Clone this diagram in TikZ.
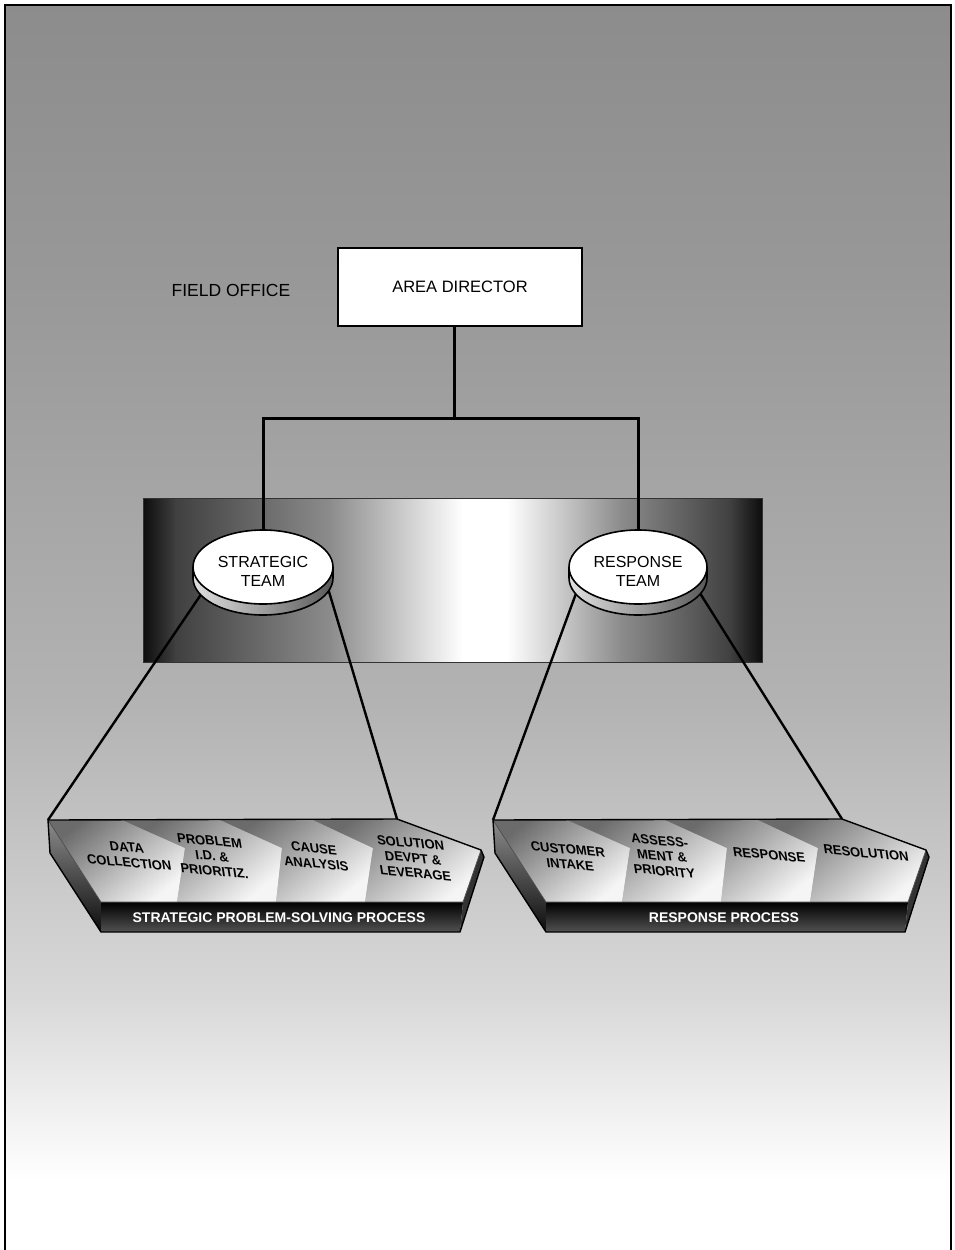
\documentclass[tikz,border=0pt]{standalone}
\usepackage{fontspec}
\setmainfont{Liberation Sans}
\usetikzlibrary{shapes.geometric}

% one process slab: end faces, front face, four chevron steps, outline
\newcommand{\processslab}{%
  \shade[top color=black!45, bottom color=black!95] (48,820) -- (101,902) -- (101,932) -- (50,853) -- cycle;
  \shade[top color=black, bottom color=black!68] (101,902) -- (463,902) -- (460,932) -- (101,932) -- cycle;
  \fill[black!80] (481,850) -- (484,857) -- (460,932) -- (463,902) -- cycle;
  \shade[stepface] (48,820) -- (122,820) -- (185,848) -- (177,902) -- (101,902) -- cycle;
  \shade[stepface] (122,820) -- (220,820) -- (282,848) -- (276,902) -- (177,902) -- (185,848) -- cycle;
  \shade[stepface] (220,820) -- (313,820) -- (373,848) -- (365,902) -- (276,902) -- (282,848) -- cycle;
  \shade[stepface] (313,820) -- (397,819) -- (481,850) -- (463,902) -- (365,902) -- (373,848) -- cycle;
  \draw[line width=0.7pt, black!70] (48,820) -- (101,902) -- (463,902) -- (481,850);
  \draw[line width=1.4pt, line join=round] (48,820) -- (397,819) -- (481,850) -- (484,857) -- (460,932) -- (101,932) -- (50,853) -- cycle;
}

\begin{document}
\begin{tikzpicture}[x=1pt, y=-1pt,
  frame/.style={line width=2.5pt, black},
  link/.style={line width=3pt, black},
  cone/.style={line width=2.4pt, black},
  stepface/.style={top color=black!58, bottom color=black!4, shading angle=40},
  boxnode/.style={draw, line width=2.2pt, fill=white, minimum width=244pt, minimum height=78pt, inner sep=0pt, font=\fontsize{16.5}{18}\selectfont},
  plain/.style={inner sep=0pt, font=\fontsize{17.5}{18}\selectfont},
  teamdisk/.style={ellipse, draw, line width=1.6pt, fill=white, minimum width=140pt, minimum height=74pt, inner sep=0pt, align=center, font=\fontsize{16}{19}\selectfont},
  steplabel/.style={align=center, inner sep=0pt, font=\bfseries\fontsize{13}{15}\selectfont, rotate=-5, xslant=-0.25},
  barlabel/.style={text=white, inner sep=0pt, font=\bfseries\fontsize{14}{16}\selectfont},
]
\useasboundingbox (0,0) rectangle (955,1250);
\fill[white] (0,0) rectangle (955,1250);

% backdrop: grey fading to white towards the bottom
\shade[top color=black!45, bottom color=black!40] (5,5) rectangle (951,301);
\shade[top color=black!40, bottom color=black!30] (5,300) rectangle (951,701);
\shade[top color=black!30, bottom color=black!15] (5,700) rectangle (951,1001);
\shade[top color=black!15, bottom color=white] (5,1000) rectangle (951,1180);

% field-office band behind the two teams
\shade[left color=black!95, right color=black!75] (143,498) rectangle (176,662);
\shade[left color=black!75, right color=black!45] (175,498) rectangle (331,662);
\shade[left color=black!45, right color=white] (330,498) rectangle (463,662);
\fill[white] (462,498) rectangle (508,662);
\shade[left color=white, right color=black!45] (507,498) rectangle (621,662);
\shade[left color=black!45, right color=black!75] (620,498) rectangle (731,662);
\shade[left color=black!75, right color=black!95] (730,498) rectangle (762,662);
\draw[black!80, line width=1pt] (143,498) rectangle (762,662);

% ends of the fan lines
\coordinate (sA) at (204,590);
\coordinate (sB) at (327,585);
\coordinate (rA) at (578,588);
\coordinate (rB) at (698,590);
\coordinate (sBL) at (48,820);
\coordinate (sBR) at (397,819);
\coordinate (rBL) at (493,820);
\coordinate (rBR) at (842,819);
\draw[cone] (sBL) -- (sA);
\draw[cone] (sBR) -- (sB);
\draw[cone] (rBL) -- (rA);
\draw[cone] (rBR) -- (rB);

% team disks: rim, then top face
\shade[left color=black!12, right color=black!65] (193,567) -- (193,578) arc[start angle=180, end angle=0, x radius=70, y radius=37] -- (333,567) arc[start angle=0, end angle=180, x radius=70, y radius=37] -- cycle;
\draw[line width=1.6pt] (193,567) -- (193,578) arc[start angle=180, end angle=0, x radius=70, y radius=37] -- (333,567);
\node[teamdisk] (st) at (263,567) {\rule{0pt}{20pt}STRATEGIC\\TEAM};

\shade[left color=black!12, right color=black!65] (569,567) -- (569,578) arc[start angle=180, end angle=0, x radius=69, y radius=37] -- (707,567) arc[start angle=0, end angle=180, x radius=69, y radius=37] -- cycle;
\draw[line width=1.6pt] (569,567) -- (569,578) arc[start angle=180, end angle=0, x radius=69, y radius=37] -- (707,567);
\node[teamdisk, minimum width=138pt] (rt) at (638,567) {\rule{0pt}{20pt}RESPONSE\\TEAM};

% process slabs
\begin{scope}
  \processslab
\end{scope}
\begin{scope}[shift={(445,0)}]
  \processslab
\end{scope}

% step labels
\node[steplabel] (s1) at (128,855) {DATA\\COLLECTION};
\node[steplabel] (s2) at (212,856) {PROBLEM\\I.D. \&\\PRIORITIZ.};
\node[steplabel] (s3) at (315,856) {CAUSE\\ANALYSIS};
\node[steplabel] (s4) at (413,858) {SOLUTION\\DEVPT \&\\LEVERAGE};
\node[steplabel] (r1) at (569,857) {CUSTOMER\\INTAKE};
\node[steplabel] (r2) at (662,856) {ASSESS-\\MENT \&\\PRIORITY};
\node[steplabel] (r3) at (769,855) {RESPONSE};
\node[steplabel] (r4) at (866,853) {RESOLUTION};

\node[barlabel] (sp) at (279,918) {STRATEGIC PROBLEM-SOLVING PROCESS};
\node[barlabel] (rp) at (724,918) {RESPONSE PROCESS};

% organisation chart
\node[boxnode] (ad) at (460,287) {AREA DIRECTOR};
\node[plain] (fo) at (231,290) {FIELD OFFICE};
\coordinate (j) at (454,418);
\draw[link] (ad.south -| j) -- (j);
\draw[link] (st.north) -- (st.north |- j) -- (rt.north |- j) -- (rt.north);

% page frame
\draw[frame] (5,1250) -- (5,5) -- (951,5) -- (951,1250);
\end{tikzpicture}
\end{document}
